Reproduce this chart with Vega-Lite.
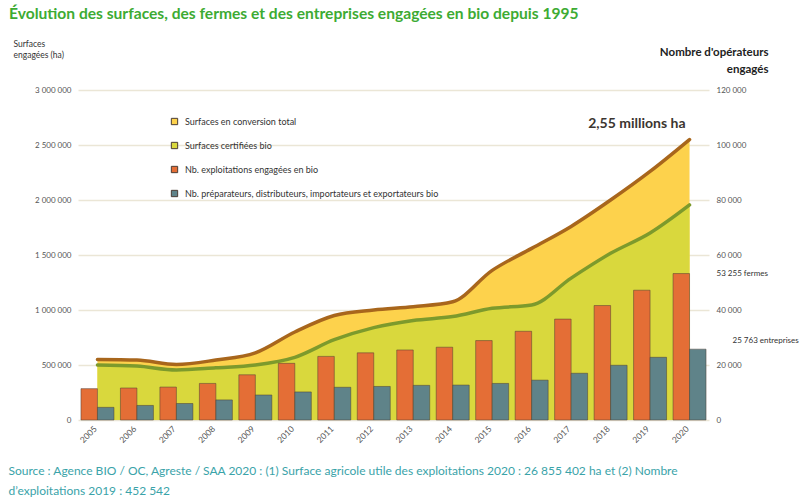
{
  "$schema": "https://vega.github.io/schema/vega-lite/v6.json",
  "width": 631,
  "height": 330,
  "autosize": {"type": "none"},
  "padding": {"left": 78, "top": 90, "right": 96, "bottom": 79},
  "config": {
    "font": "Lato",
    "view": {"stroke": null},
    "locale": {"number": {"decimal": ",", "thousands": "\u202f", "grouping": [3], "currency": ["", " €"]}}
  },
  "title": {
    "text": "Évolution des surfaces, des fermes et des entreprises engagées en bio depuis 1995",
    "anchor": "start", "frame": "group", "dx": -69, "offset": 16,
    "fontSize": 15.6, "fontWeight": "bold", "color": "#3dab33"
  },
  "datasets": {
    "surf": [
      {"year": "2005", "total": 550000, "certified": 500000},
      {"year": "2006", "total": 545000, "certified": 490000},
      {"year": "2007", "total": 505000, "certified": 455000},
      {"year": "2008", "total": 545000, "certified": 475000},
      {"year": "2009", "total": 610000, "certified": 500000},
      {"year": "2010", "total": 800000, "certified": 570000},
      {"year": "2011", "total": 950000, "certified": 730000},
      {"year": "2012", "total": 1000000, "certified": 840000},
      {"year": "2013", "total": 1030000, "certified": 905000},
      {"year": "2014", "total": 1075000, "certified": 940000},
      {"year": "2015", "total": 1360000, "certified": 1015000},
      {"year": "2016", "total": 1560000, "certified": 1045000},
      {"year": "2017", "total": 1760000, "certified": 1290000},
      {"year": "2018", "total": 2000000, "certified": 1515000},
      {"year": "2019", "total": 2260000, "certified": 1700000},
      {"year": "2020", "total": 2550000, "certified": 1955000}
    ],
    "ops": [
      {"year": "2005", "serie": "Nb. exploitations engagées en bio", "value": 11402},
      {"year": "2006", "serie": "Nb. exploitations engagées en bio", "value": 11640},
      {"year": "2007", "serie": "Nb. exploitations engagées en bio", "value": 11978},
      {"year": "2008", "serie": "Nb. exploitations engagées en bio", "value": 13298},
      {"year": "2009", "serie": "Nb. exploitations engagées en bio", "value": 16446},
      {"year": "2010", "serie": "Nb. exploitations engagées en bio", "value": 20604},
      {"year": "2011", "serie": "Nb. exploitations engagées en bio", "value": 23135},
      {"year": "2012", "serie": "Nb. exploitations engagées en bio", "value": 24425},
      {"year": "2013", "serie": "Nb. exploitations engagées en bio", "value": 25467},
      {"year": "2014", "serie": "Nb. exploitations engagées en bio", "value": 26466},
      {"year": "2015", "serie": "Nb. exploitations engagées en bio", "value": 28884},
      {"year": "2016", "serie": "Nb. exploitations engagées en bio", "value": 32264},
      {"year": "2017", "serie": "Nb. exploitations engagées en bio", "value": 36691},
      {"year": "2018", "serie": "Nb. exploitations engagées en bio", "value": 41623},
      {"year": "2019", "serie": "Nb. exploitations engagées en bio", "value": 47196},
      {"year": "2020", "serie": "Nb. exploitations engagées en bio", "value": 53255},
      {"year": "2005", "serie": "Nb. préparateurs, distributeurs, importateurs et exportateurs bio", "value": 4600},
      {"year": "2006", "serie": "Nb. préparateurs, distributeurs, importateurs et exportateurs bio", "value": 5300},
      {"year": "2007", "serie": "Nb. préparateurs, distributeurs, importateurs et exportateurs bio", "value": 6000},
      {"year": "2008", "serie": "Nb. préparateurs, distributeurs, importateurs et exportateurs bio", "value": 7300},
      {"year": "2009", "serie": "Nb. préparateurs, distributeurs, importateurs et exportateurs bio", "value": 9100},
      {"year": "2010", "serie": "Nb. préparateurs, distributeurs, importateurs et exportateurs bio", "value": 10200},
      {"year": "2011", "serie": "Nb. préparateurs, distributeurs, importateurs et exportateurs bio", "value": 11900},
      {"year": "2012", "serie": "Nb. préparateurs, distributeurs, importateurs et exportateurs bio", "value": 12200},
      {"year": "2013", "serie": "Nb. préparateurs, distributeurs, importateurs et exportateurs bio", "value": 12600},
      {"year": "2014", "serie": "Nb. préparateurs, distributeurs, importateurs et exportateurs bio", "value": 12700},
      {"year": "2015", "serie": "Nb. préparateurs, distributeurs, importateurs et exportateurs bio", "value": 13300},
      {"year": "2016", "serie": "Nb. préparateurs, distributeurs, importateurs et exportateurs bio", "value": 14500},
      {"year": "2017", "serie": "Nb. préparateurs, distributeurs, importateurs et exportateurs bio", "value": 17000},
      {"year": "2018", "serie": "Nb. préparateurs, distributeurs, importateurs et exportateurs bio", "value": 19900},
      {"year": "2019", "serie": "Nb. préparateurs, distributeurs, importateurs et exportateurs bio", "value": 22800},
      {"year": "2020", "serie": "Nb. préparateurs, distributeurs, importateurs et exportateurs bio", "value": 25763}
    ],
    "noteSurf": [
      {"year": "2020", "total": 2550000, "label": "2,55 millions ha"}
    ],
    "noteFarms": [
      {"year": "2020", "value": 53255, "label": "53 255 fermes"}
    ],
    "noteOps": [
      {"year": "2020", "value": 25763, "label": "25 763 entreprises"}
    ]
  },
  "encoding": {
    "x": {
      "field": "year", "type": "ordinal",
      "scale": {"paddingInner": 0.164, "paddingOuter": 0.075},
      "axis": {
        "title": ["Source : Agence BIO / OC, Agreste / SAA 2020 : (1) Surface agricole utile des exploitations 2020 : 26 855 402 ha et (2) Nombre", "d’exploitations 2019 : 452 542"],
        "titleAnchor": "start", "titleAlign": "left", "titleBaseline": "top",
        "titleX": -70, "titleY": 45,
        "titleFontSize": 12, "titleFontWeight": "normal", "titleColor": "#3aa3a9", "titleLineHeight": 20,
        "labelAngle": -45, "labelFontSize": 8.5, "labelColor": "#555555", "labelOffset": -5,
        "ticks": false, "domain": false, "labelPadding": 4
      }
    }
  },
  "layer": [
    {
      "layer": [
        {
          "data": {"name": "surf"},
          "mark": {"type": "area", "interpolate": "monotone"},
          "encoding": {
            "y": {
              "field": "total", "type": "quantitative",
              "scale": {"domain": [0, 3000000]},
              "axis": {
                "title": ["Surfaces", "engagées (ha)"],
                "titleAngle": 0, "titleAlign": "left", "titleBaseline": "top",
                "titleX": -65, "titleY": -51,
                "titleFontSize": 8.5, "titleFontWeight": "normal", "titleColor": "#333333", "titleLineHeight": 11.5,
                "values": [0, 500000, 1000000, 1500000, 2000000, 2500000, 3000000],
                "format": ",d", "labelFontSize": 8, "labelColor": "#555555", "labelPadding": 7,
                "ticks": false, "domain": false,
                "grid": true, "gridColor": "#ebe6d6", "gridWidth": 1.5
              }
            },
            "color": {
              "datum": "Surfaces en conversion total",
              "scale": {
                "domain": ["Surfaces en conversion total", "Surfaces certifiées bio", "Nb. exploitations engagées en bio", "Nb. préparateurs, distributeurs, importateurs et exportateurs bio"],
                "range": ["#fdd24c", "#d9d83d", "#e46e36", "#5f8389"]
              },
              "legend": {
                "orient": "none", "legendX": 92, "legendY": 27, "title": null,
                "symbolType": "square", "symbolSize": 40, "symbolStrokeWidth": 1,
                "labelFontSize": 9, "labelColor": "#333333", "rowPadding": 13, "labelOffset": 6, "labelLimit": 500
              }
            }
          }
        },
        {
          "data": {"name": "surf"},
          "mark": {"type": "area", "interpolate": "monotone"},
          "encoding": {
            "y": {"field": "certified", "type": "quantitative"},
            "color": {
              "datum": "Surfaces certifiées bio",
              "legend": {"title": null}
            }
          }
        },
        {
          "data": {"name": "surf"},
          "mark": {"type": "line", "interpolate": "monotone", "color": "#a8661c", "strokeWidth": 3.5, "strokeCap": "round"},
          "encoding": {
            "y": {"field": "total", "type": "quantitative"}
          }
        },
        {
          "data": {"name": "surf"},
          "mark": {"type": "line", "interpolate": "monotone", "color": "#7d9a2c", "strokeWidth": 3.5, "strokeCap": "round"},
          "encoding": {
            "y": {"field": "certified", "type": "quantitative"}
          }
        },
        {
          "data": {"name": "noteSurf"},
          "mark": {"type": "text", "align": "right", "baseline": "middle", "dx": -4, "dy": -16, "fontSize": 14, "fontWeight": "bold", "color": "#3b3530"},
          "encoding": {
            "y": {"field": "total", "type": "quantitative"},
            "text": {"field": "label"}
          }
        }
      ]
    },
    {
      "layer": [
        {
          "data": {"name": "ops"},
          "mark": {"type": "bar", "stroke": "#4a3c34", "strokeWidth": 0.7, "strokeOpacity": 0.7},
          "encoding": {
            "y": {
              "field": "value", "type": "quantitative",
              "scale": {"domain": [0, 120000]},
              "axis": {
                "orient": "right",
                "title": ["Nombre d'opérateurs", "engagés"],
                "titleAngle": 0, "titleAlign": "right", "titleBaseline": "top",
                "titleX": 59, "titleY": -44,
                "titleFontSize": 11.5, "titleFontWeight": "bold", "titleColor": "#222222", "titleLineHeight": 17,
                "values": [0, 20000, 40000, 60000, 80000, 100000, 120000],
                "format": ",d", "labelFontSize": 8, "labelColor": "#555555", "labelPadding": 7,
                "ticks": false, "domain": false, "grid": false
              }
            },
            "xOffset": {
              "field": "serie", "type": "nominal",
              "scale": {"domain": ["Nb. exploitations engagées en bio", "Nb. préparateurs, distributeurs, importateurs et exportateurs bio"], "paddingInner": 0, "paddingOuter": 0}
            },
            "color": {
              "field": "serie", "type": "nominal",
              "legend": {
                "orient": "none", "legendX": 92, "legendY": 27, "title": null,
                "symbolType": "square", "symbolSize": 40, "symbolStrokeWidth": 1,
                "labelFontSize": 9, "labelColor": "#333333", "rowPadding": 13, "labelOffset": 6, "labelLimit": 500
              }
            }
          }
        },
        {
          "data": {"name": "noteFarms"},
          "mark": {"type": "text", "align": "left", "baseline": "middle", "dx": 27, "dy": 0, "fontSize": 8, "color": "#333333"},
          "encoding": {
            "y": {"field": "value", "type": "quantitative"},
            "text": {"field": "label"}
          }
        },
        {
          "data": {"name": "noteOps"},
          "mark": {"type": "text", "align": "left", "baseline": "middle", "dx": 43, "dy": -8, "fontSize": 8, "color": "#333333"},
          "encoding": {
            "y": {"field": "value", "type": "quantitative"},
            "text": {"field": "label"}
          }
        }
      ]
    }
  ],
  "resolve": {"scale": {"y": "independent"}}
}
